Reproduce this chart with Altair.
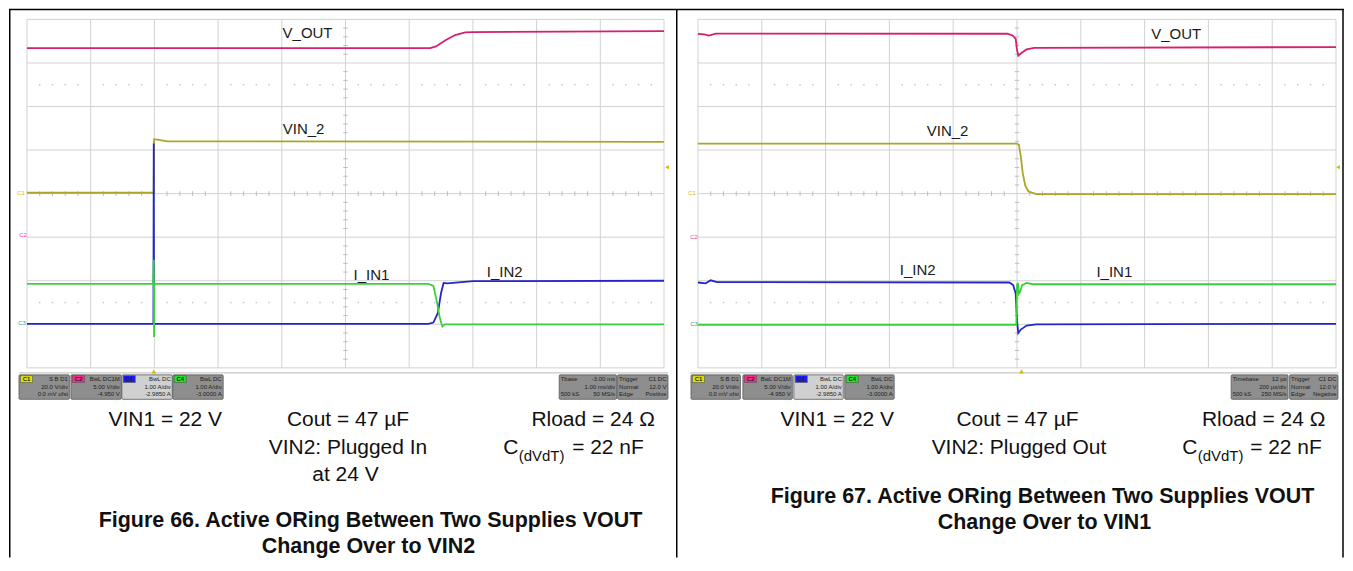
import altair as alt
import pandas as pd

FONT = "Liberation Sans"

# ---------------- data (scope screen divisions: 10 horizontal x 8 vertical) ----------------
SERIES = ["V_OUT", "VIN_2", "I_IN2", "I_IN1"]
COLORS = ["#d4206e", "#aaa62a", "#2626c8", "#3ccf3c"]

# Figure 66 traces
F66_VOUT_T = [0, 6.33, 6.42, 6.57, 6.72, 6.88, 7.0, 10]
F66_VOUT_V = [3.34, 3.34, 3.38, 3.52, 3.64, 3.70, 3.71, 3.73]
F66_VIN2_T = [0, 1.99, 1.995, 2.05, 2.2, 10]
F66_VIN2_V = [0.02, 0.02, 1.25, 1.24, 1.20, 1.19]
F66_IIN2_T = [0, 1.985, 1.99, 1.995, 6.3, 6.38, 6.45, 6.5, 6.54, 6.6, 7.0, 10]
F66_IIN2_V = [-2.99, -2.99, 1.15, -2.99, -2.99, -2.96, -2.74, -2.28, -2.05, -2.06, -2.01, -2.0]
F66_IIN1_T = [0, 1.98, 1.99, 1.995, 2.0, 6.3, 6.38, 6.43, 6.48, 6.52, 6.56, 10]
F66_IIN1_V = [-2.07, -2.07, -1.52, -3.29, -2.07, -2.07, -2.12, -2.45, -2.85, -3.05, -3.0, -3.0]

# Figure 67 traces
F67_VOUT_T = [0, 0.1, 0.17, 0.28, 4.85, 4.93, 4.98, 5.0, 5.02, 5.08, 5.15, 5.27, 10]
F67_VOUT_V = [3.67, 3.655, 3.63, 3.675, 3.67, 3.63, 3.55, 3.30, 3.17, 3.24, 3.31, 3.345, 3.365]
F67_VIN2_T = [0, 5.0, 5.03, 5.06, 5.09, 5.13, 5.18, 5.3, 10]
F67_VIN2_V = [1.15, 1.15, 1.12, 0.85, 0.47, 0.18, 0.05, -0.01, -0.01]
F67_IIN2_T = [0, 0.12, 0.2, 0.3, 4.88, 4.94, 4.98, 5.0, 5.02, 5.06, 5.15, 5.3, 10]
F67_IIN2_V = [-2.04, -2.06, -1.99, -2.03, -2.04, -2.1, -2.3, -2.9, -3.2, -3.12, -3.03, -3.0, -2.99]
F67_IIN1_T = [0, 4.99, 5.0, 5.015, 5.03, 5.05, 5.08, 5.15, 5.25, 10]
F67_IIN1_V = [-3.01, -3.01, -2.1, -2.05, -2.3, -2.25, -2.1, -2.05, -2.08, -2.08]

# scope channel info
CH_NAMES = ["C1", "C2", "C3", "C4"]
CH_COLORS = ["#e2e200", "#ff2a8c", "#1a1aff", "#22e622"]
CH_HEAD = ["S B D1", "BwL DC1M", "BwL DC", "BwL DC"]
CH_SCALE = ["20.0 V/div", "5.00 V/div", "1.00 A/div", "1.00 A/div"]
CH_OFFSET = ["0.0 mV ofst", "-4.950 V", "-2.9850 A", "-3.0000 A"]

F66_TB_L = ["Tbase", "", "500 kS"]
F66_TB_R = ["-3.00 ms", "1.00 ms/div", "50 MS/s"]
F67_TB_L = ["Timebase", "", "500 kS"]
F67_TB_R = ["12 µs", "200 µs/div", "250 MS/s"]
TRIG_L = ["Trigger", "Normal", "Edge"]
F66_TRIG_R = ["C1 DC", "12.0 V", "Positive"]
F67_TRIG_R = ["C1 DC", "12.0 V", "Negative"]

F66_PARAMS = ["VIN1 = 22 V", "Cout = 47 µF", "Rload = 24 Ω", "VIN2: Plugged In", "at 24 V"]
F67_PARAMS = ["VIN1 = 22 V", "Cout = 47 µF", "Rload = 24 Ω", "VIN2: Plugged Out"]
CDVDT = ["C", "(dVdT)", "= 22 nF"]
F66_CAPTION = ["Figure 66. Active ORing Between Two Supplies VOUT", "Change Over to VIN2"]
F67_CAPTION = ["Figure 67. Active ORing Between Two Supplies VOUT", "Change Over to VIN1"]

# ---------------- layout (page pixels) ----------------
H = 550
OY = 8
GY0, GY1 = 19.0, 368.0
GRID = "#d2d2d2"

PANELS = [
    dict(ox=8, W=668, gx0=26, gx1=664, border_left=0.75, border_right=None,
         traces=[(F66_VOUT_T, F66_VOUT_V), (F66_VIN2_T, F66_VIN2_V),
                 (F66_IIN2_T, F66_IIN2_V), (F66_IIN1_T, F66_IIN1_V)],
         labels=[("V_OUT", 307, 33), ("VIN_2", 303, 129), ("I_IN1", 371, 275), ("I_IN2", 504.5, 272)],
         chm=[(20, 193), (22, 235), (21, 323)],
         trig_x=153, rmark_x=667, frame=(18, 668),
         chbox=[18, 70, 121, 172], chw=50.5,
         tb=(559, 616.5, F66_TB_L, F66_TB_R), tr=(617.5, 668, TRIG_L, F66_TRIG_R),
         params=[(F66_PARAMS[0], 164.5, 420), (F66_PARAMS[1], 347.5, 420), (F66_PARAMS[2], 593, 420),
                 (F66_PARAMS[3], 347.5, 448), (F66_PARAMS[4], 345, 475)],
         cdv=(503, 518.5, 572, 448),
         caption=[(F66_CAPTION[0], 370, 521), (F66_CAPTION[1], 368, 547)]),
    dict(ox=676, W=669, gx0=698, gx1=1337, border_left=0.75, border_right=668,
         traces=[(F67_VOUT_T, F67_VOUT_V), (F67_VIN2_T, F67_VIN2_V),
                 (F67_IIN2_T, F67_IIN2_V), (F67_IIN1_T, F67_IIN1_V)],
         labels=[("V_OUT", 1177, 34), ("VIN_2", 948, 131), ("I_IN2", 918, 270), ("I_IN1", 1115, 272)],
         chm=[(692, 193), (694, 237), (694, 324)],
         trig_x=1022, rmark_x=1339, frame=(690, 1340),
         chbox=[691, 743, 794, 845], chw=49.5,
         tb=(1232, 1289, F67_TB_L, F67_TB_R), tr=(1290.5, 1339, TRIG_L, F67_TRIG_R),
         params=[(F67_PARAMS[0], 837.5, 420), (F67_PARAMS[1], 1018, 420), (F67_PARAMS[2], 1264.5, 420),
                 (F67_PARAMS[3], 1019.5, 448)],
         cdv=(1183, 1198.5, 1251, 448),
         caption=[(F67_CAPTION[0], 1043, 497), (F67_CAPTION[1], 1045, 523)]),
]


def build_panel(P):
    ox, W, gx0, gx1 = P["ox"], P["W"], P["gx0"], P["gx1"]
    ppx = (gx1 - gx0) / 10.0
    ppy = (GY1 - GY0) / 8.0

    def dx(px):
        return (px - gx0) / ppx

    def dy(py):
        return 4.0 - (py - GY0) / ppy

    xs = alt.Scale(domain=[dx(ox), dx(ox + W)], nice=False, zero=False)
    ys = alt.Scale(domain=[dy(OY + H), dy(OY)], nice=False, zero=False)

    def X(f):
        return alt.X(f"{f}:Q", scale=xs, axis=None)

    def Y(f):
        return alt.Y(f"{f}:Q", scale=ys, axis=None)

    L = []
    # grid
    vg = pd.DataFrame({"x": list(range(11))})
    vg["y"], vg["y2"] = -4, 4
    L.append(alt.Chart(vg).mark_rule(color=GRID, strokeWidth=1).encode(x=X("x"), y=Y("y"), y2=alt.Y2("y2")))
    hg = pd.DataFrame({"y": list(range(-4, 5))})
    hg["x"], hg["x2"] = 0, 10
    L.append(alt.Chart(hg).mark_rule(color=GRID, strokeWidth=1).encode(y=Y("y"), x=X("x"), x2=alt.X2("x2")))
    # center ticks
    tx = [k * 0.2 for k in range(1, 50) if k % 5]
    ct = pd.DataFrame({"x": tx})
    ct["y"], ct["y2"] = -0.055, 0.055
    L.append(alt.Chart(ct).mark_rule(color="#bdbdbd", strokeWidth=1).encode(x=X("x"), y=Y("y"), y2=alt.Y2("y2")))
    cty = pd.DataFrame({"y": [k * 0.2 - 4 for k in range(1, 40) if k % 5]})
    cty["x"], cty["x2"] = 4.965, 5.035
    L.append(alt.Chart(cty).mark_rule(color="#bdbdbd", strokeWidth=1).encode(y=Y("y"), x=X("x"), x2=alt.X2("x2")))
    # dotted rows
    dots = pd.DataFrame({"x": tx * 2, "y": [2.5] * len(tx) + [-2.5] * len(tx)})
    L.append(alt.Chart(dots).mark_square(size=2, color="#c4c4c4", opacity=1).encode(x=X("x"), y=Y("y")))
    # scope frame bottom
    fr = pd.DataFrame({"x": [dx(P["frame"][0])], "x2": [dx(P["frame"][1])], "y": [dy(373)]})
    L.append(alt.Chart(fr).mark_rule(color="#c8c8c8", strokeWidth=1.2).encode(x=X("x"), x2=alt.X2("x2"), y=Y("y")))

    # traces
    rows = []
    for s, (T, V) in zip(SERIES, P["traces"]):
        for i, (t, v) in enumerate(zip(T, V)):
            rows.append({"series": s, "t": t, "v": v, "i": i})
    L.append(alt.Chart(pd.DataFrame(rows)).mark_line(strokeWidth=1.8).encode(
        x=X("t"), y=Y("v"),
        color=alt.Color("series:N", scale=alt.Scale(domain=SERIES, range=COLORS), legend=None),
        detail="series:N", order="i:Q"))

    # trace labels
    lab = pd.DataFrame([{"text": t, "x": dx(a), "y": dy(b)} for t, a, b in P["labels"]])
    L.append(alt.Chart(lab).mark_text(font=FONT, fontSize=15, color="#1a1a1a", baseline="middle", align="center")
             .encode(x=X("x"), y=Y("y"), text="text:N"))
    # channel ground markers
    chm = pd.DataFrame([{"text": n, "x": dx(a), "y": dy(b), "c": c} for n, (a, b), c in
                        zip(["C1", "C2", "C3"], P["chm"], ["#c9c400", "#ff3c9c", "#20a0a0"])])
    L.append(alt.Chart(chm).mark_text(font=FONT, fontSize=6, baseline="middle", align="center")
             .encode(x=X("x"), y=Y("y"), text="text:N", color=alt.Color("c:N", scale=None)))
    # trigger markers
    tm = pd.DataFrame({"x": [dx(P["trig_x"])], "y": [dy(371.5)]})
    L.append(alt.Chart(tm).mark_point(shape="triangle-up", size=22, filled=True, color="#d2c000", opacity=1)
             .encode(x=X("x"), y=Y("y")))
    rm = pd.DataFrame({"x": [dx(P["rmark_x"])], "y": [dy(167)]})
    L.append(alt.Chart(rm).mark_point(shape="triangle-left", size=18, filled=True, color="#c8c000", opacity=1)
             .encode(x=X("x"), y=Y("y")))

    # info boxes
    by0, by1 = 375, 399.5
    boxes = []
    for i, x0 in enumerate(P["chbox"]):
        boxes.append({"x": dx(x0), "x2": dx(x0 + P["chw"]), "y": dy(by0), "y2": dy(by1),
                      "f": "#d0d0d0" if i == 2 else "#8e8e8e"})
    for (a, b, _, _) in [P["tb"], P["tr"]]:
        boxes.append({"x": dx(a), "x2": dx(b), "y": dy(by0), "y2": dy(by1), "f": "#8e8e8e"})
    L.append(alt.Chart(pd.DataFrame(boxes)).mark_rect(stroke="#5a5a5a", strokeWidth=0.8, cornerRadius=1)
             .encode(x=X("x"), x2=alt.X2("x2"), y=Y("y"), y2=alt.Y2("y2"), fill=alt.Fill("f:N", scale=None)))
    sq = pd.DataFrame([{"x": dx(x0 + 1.5), "x2": dx(x0 + 13.5), "y": dy(375.8), "y2": dy(382.6), "f": c}
                       for x0, c in zip(P["chbox"], CH_COLORS)])
    L.append(alt.Chart(sq).mark_rect(stroke="#444", strokeWidth=0.5)
             .encode(x=X("x"), x2=alt.X2("x2"), y=Y("y"), y2=alt.Y2("y2"), fill=alt.Fill("f:N", scale=None)))
    sqt = pd.DataFrame([{"x": dx(x0 + 7.5), "y": dy(379.3), "text": n} for x0, n in zip(P["chbox"], CH_NAMES)])
    L.append(alt.Chart(sqt).mark_text(font=FONT, fontSize=6, fontWeight="bold", color="#222", baseline="middle")
             .encode(x=X("x"), y=Y("y"), text="text:N"))
    rt = []
    lt = []
    for i, x0 in enumerate(P["chbox"]):
        xr = dx(x0 + P["chw"] - 1.5)
        rt += [{"x": xr, "y": dy(379.3), "text": CH_HEAD[i]},
               {"x": xr, "y": dy(386.8), "text": CH_SCALE[i]},
               {"x": xr, "y": dy(394.3), "text": CH_OFFSET[i]}]
    for (a, b, left_txt, right_txt) in [P["tb"], P["tr"]]:
        for j, yy in enumerate([379.3, 386.8, 394.3]):
            if right_txt[j]:
                rt.append({"x": dx(b - 1.5), "y": dy(yy), "text": right_txt[j]})
            if left_txt[j]:
                lt.append({"x": dx(a + 1.5), "y": dy(yy), "text": left_txt[j]})
    L.append(alt.Chart(pd.DataFrame(rt)).mark_text(font=FONT, fontSize=6, color="#1e1e1e", align="right",
                                                    baseline="middle").encode(x=X("x"), y=Y("y"), text="text:N"))
    L.append(alt.Chart(pd.DataFrame(lt)).mark_text(font=FONT, fontSize=6, color="#1e1e1e", align="left",
                                                    baseline="middle").encode(x=X("x"), y=Y("y"), text="text:N"))

    # parameter text
    pr = pd.DataFrame([{"text": t, "x": dx(a), "y": dy(b)} for t, a, b in P["params"]])
    L.append(alt.Chart(pr).mark_text(font=FONT, fontSize=21, color="#111", align="center", baseline="middle")
             .encode(x=X("x"), y=Y("y"), text="text:N"))
    cx, sx, ex, cy = P["cdv"]
    cd = pd.DataFrame([{"text": CDVDT[0], "x": dx(cx), "y": dy(cy)}, {"text": CDVDT[2], "x": dx(ex), "y": dy(cy)}])
    L.append(alt.Chart(cd).mark_text(font=FONT, fontSize=21, color="#111", align="left", baseline="middle")
             .encode(x=X("x"), y=Y("y"), text="text:N"))
    sb = pd.DataFrame([{"text": CDVDT[1], "x": dx(sx), "y": dy(cy + 8.5)}])
    L.append(alt.Chart(sb).mark_text(font=FONT, fontSize=15, color="#111", align="left", baseline="middle")
             .encode(x=X("x"), y=Y("y"), text="text:N"))
    # caption
    cp = pd.DataFrame([{"text": t, "x": dx(a), "y": dy(b)} for t, a, b in P["caption"]])
    L.append(alt.Chart(cp).mark_text(font=FONT, fontSize=21.5, fontWeight="bold", color="#111", align="center",
                                     baseline="middle").encode(x=X("x"), y=Y("y"), text="text:N"))

    # borders
    one = pd.DataFrame({"a": [0]})
    L.append(alt.Chart(one).mark_rule(color="#000", strokeWidth=1.5)
             .encode(x=alt.value(P["border_left"]), y=alt.value(1), y2=alt.value(H)))
    L.append(alt.Chart(one).mark_rule(color="#000", strokeWidth=1.5)
             .encode(y=alt.value(1), x=alt.value(0), x2=alt.value(W)))
    if P["border_right"] is not None:
        L.append(alt.Chart(one).mark_rule(color="#000", strokeWidth=1.5)
                 .encode(x=alt.value(P["border_right"]), y=alt.value(1), y2=alt.value(H)))

    return alt.layer(*L).properties(width=W, height=H)


left = build_panel(PANELS[0])
right = build_panel(PANELS[1])

chart = alt.hconcat(left, right, spacing=0, bounds="flush").properties(
    padding={"left": 0, "top": 0, "right": 0, "bottom": 0}
).configure_view(stroke=None)

chart.save("out.html", embed_options={"renderer": "svg", "actions": False})
